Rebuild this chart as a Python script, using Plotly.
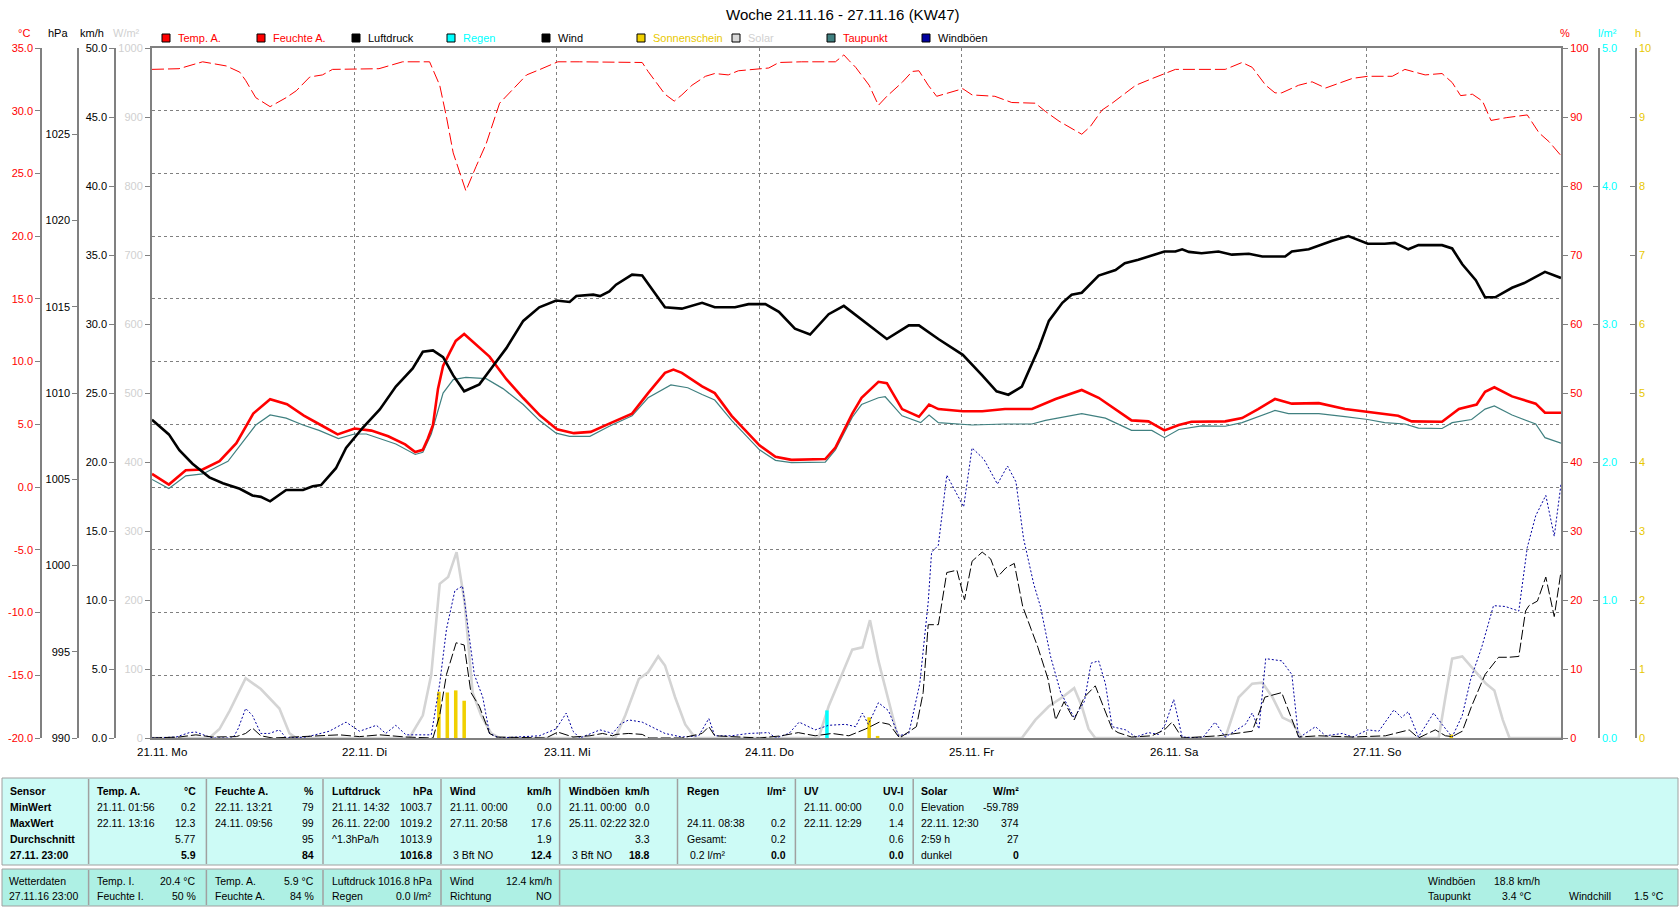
import plotly.graph_objects as go

# ---------------- data (hours since 21.11.16 00:00) ----------------
temp_hours = [0, 2, 4, 6, 8, 10, 12, 14, 16, 18,
              20, 22, 24, 26, 28, 30, 31.2, 32.1, 32.7, 33.3,
              33.9, 34.5, 35.3, 36, 37, 38, 40, 42, 44, 46,
              48, 50, 52, 54,
              56.9, 58.8, 60.8, 61.8, 62.8, 65.2, 66.7, 68.7, 70.7, 72,
              73.9, 75.8, 79.8, 81, 83, 84.1, 86.1, 87.1, 88.9, 90.9,
              92.1, 93.2, 96.1, 98.4, 101.1, 104.3, 107.1, 110.2,
              112.2, 116.1, 118.1, 120, 121.7, 123.2, 127.2, 129.2, 131.1, 133.1,
              135.1, 138.3, 141.4, 144.1, 147.7, 149.3, 152.9, 154.9, 157, 158,
              159.1, 161.2, 164, 165.1, 167]
temp_values = [1.05, 0.2, 1.34, 1.4, 2.06, 3.5, 5.86, 7.0, 6.6, 5.7,
               4.95, 4.2, 4.67, 4.5, 4.05, 3.4, 2.8, 2.97, 3.87, 4.95,
               7.85, 9.66, 10.74, 11.65, 12.2, 11.6, 10.4, 8.6, 7.1, 5.7,
               4.6, 4.3, 4.4, 5.0,
               5.86, 7.49, 9.11, 9.37, 9.11, 8.03, 7.49, 5.68, 4.23, 3.33,
               2.42, 2.17, 2.24, 3.15, 5.86, 7.12, 8.39, 8.28, 6.22, 5.61,
               6.58, 6.22, 6.04, 6.04, 6.22, 6.22, 7.02, 7.74,
               7.12, 5.32, 5.24, 4.52, 4.95, 5.21, 5.24, 5.5, 6.22, 7.02,
               6.65, 6.69, 6.22, 5.97, 5.68, 5.24, 5.21, 6.22, 6.58, 7.6,
               7.96, 7.23, 6.65, 5.93, 5.93]

dew_hours = [0, 2, 4, 6, 9, 11.1, 12.3, 14, 15.9, 17.9,
             19.8, 22.1, 24, 25.4, 28.9, 31.2, 32.1, 33.1, 34.5, 35.7,
             37.2, 39.6, 41.6, 44, 45.9, 47.9, 49.5, 51.9, 54.2,
             56.9, 58.8, 61.5, 63.5, 65.2, 66.7, 68.7, 70.7, 72, 73.9,
             75.8, 79.8, 81, 83, 84.1, 86.1, 86.9, 88.9, 91.1, 92.1,
             93.2, 97.2, 101.1, 104.3, 105.9, 110.2,
             113, 116.1, 118.5, 120, 121.7, 124.4, 127.2, 129.2, 133.1, 134.7,
             138.3, 141.4, 144.1, 146.1, 148.5, 150.1, 152.9, 154.1, 156.4, 158,
             159.1, 161.2, 164, 165.1, 167]
dew_values = [0.61, -0.11, 0.9, 1.05, 2.06, 3.87, 4.95, 5.75, 5.5, 4.95,
              4.52, 3.87, 4.23, 4.23, 3.44, 2.6, 2.78, 4.23, 7.49, 8.57,
              8.75, 8.64, 7.85, 6.58, 5.32, 4.3, 4.05, 4.05, 4.85,
              5.68, 7.12, 8.14, 7.92, 7.38, 6.94, 5.32, 3.87, 2.97, 2.13,
              1.95, 1.99, 2.97, 5.57, 6.58, 7.12, 7.2, 5.68, 5.14, 5.75,
              5.14, 4.95, 5.03, 5.03, 5.32, 5.86,
              5.5, 4.52, 4.52, 3.94, 4.59, 4.88, 4.85, 5.14, 6.11, 5.86,
              5.86, 5.61, 5.39, 5.14, 5.03, 4.7, 4.67, 5.14, 5.39, 6.22,
              6.47, 5.75, 5.03, 3.94, 3.51]

press_hours = [0, 2, 3.24, 4.8, 6.8, 8.4, 10.4, 11.9, 12.9, 14,
               15.9, 17.9, 19.05, 20.04, 21.8, 23, 25, 27, 28.9, 30.9,
               32.1, 33.3, 34.5, 35.7, 37, 38.8, 40.4, 42, 44, 45.9,
               47.9, 49.5, 50.3, 52.3, 53.1, 54.2,
               55, 56.2, 56.9, 58.1, 60.8, 62.8, 65.2, 66.7, 69.1, 70.7,
               72.7, 74.3, 76.2, 78, 80.2, 82, 84.6, 87.1, 89.7, 90.9,
               93.2, 96.1, 98.4, 100.1, 101.5, 103.1, 105.1, 106.3, 107.9, 109,
               110.2,
               112.2, 114.2, 115.3, 116.9, 120, 121.3, 122.1, 122.9, 124.4, 126.4,
               128, 130, 131.6, 134.3, 135.1, 137.1, 139.9, 141.8, 144.1, 146.1,
               147.3, 148.9, 150.1, 152.9, 154.1, 155.3, 156.9, 158, 159.2, 161.2,
               162.8, 165.1, 167]
press_values = [1008.45, 1007.6, 1006.69, 1005.9, 1005.11, 1004.77, 1004.45, 1004.06, 1003.98, 1003.72,
                1004.38, 1004.38, 1004.59, 1004.66, 1005.64, 1006.82, 1008.0, 1009.05, 1010.37, 1011.42,
                1012.39, 1012.47, 1012.08, 1011.02, 1010.1, 1010.5, 1011.55, 1012.6, 1014.18, 1014.97,
                1015.36, 1015.28, 1015.62, 1015.7, 1015.62, 1015.89,
                1016.28, 1016.67, 1016.86, 1016.81, 1014.97, 1014.89, 1015.23, 1014.97, 1014.97, 1015.15,
                1015.15, 1014.71, 1013.73, 1013.39, 1014.57, 1015.05, 1014.05, 1013.13, 1013.92, 1013.92,
                1013.13, 1012.21, 1011.02, 1010.1, 1009.9, 1010.37, 1012.6, 1014.18, 1015.23, 1015.7,
                1015.81,
                1016.81, 1017.13, 1017.52, 1017.73, 1018.2, 1018.2, 1018.33, 1018.18, 1018.1, 1018.2,
                1018.02, 1018.07, 1017.91, 1017.91, 1018.2, 1018.33, 1018.83, 1019.1, 1018.65, 1018.65,
                1018.7, 1018.33, 1018.57, 1018.57, 1018.38, 1017.46, 1016.54, 1015.55, 1015.55, 1016.1,
                1016.41, 1017.02, 1016.67]

hum_hours = [0, 3.2, 6, 8.8, 10.4, 11.1, 12.3, 14, 15.9, 17.1,
             18.7, 20.2, 21.4, 24.1, 26.9, 29.7, 32.9, 34.1, 34.9, 35.7,
             37.2, 38.4, 39.6, 41.2, 42.8, 44.4, 46, 48.1, 50.7, 55.6,
             58.1, 58.8, 60.8, 61.9, 62.8, 64, 65.6, 66.7, 68.3, 69.5,
             72, 73.1, 74.3, 77, 81, 82, 82.6, 83.4, 85, 86.1,
             87.1, 88.9, 90.1, 90.9, 92, 93, 96.1, 97.2, 99.9, 101.9,
             104.7, 105.9, 107.5, 110.2,
             111.2, 112.6, 113.8, 116.6, 118.6, 120, 121.3, 127.2, 129.2, 130.4,
             132, 133.1, 133.9, 135.9, 137.5, 139.1, 142.3, 144.1, 147, 148.5,
             150.9, 152.9, 154.1, 155.1, 156.5, 157.7, 158.7, 160.5, 163, 164.4,
             165.6, 167]
hum_values = [96.9, 97.0, 98.0, 97.4, 96.5, 95.3, 92.8, 91.5, 92.8, 93.8,
              95.8, 96.1, 96.9, 97.0, 97.0, 98.0, 98.0, 94.6, 90.0, 84.8,
              79.3, 82.8, 86.1, 92.0, 94.0, 96.1, 96.9, 98.0, 98.0, 98.0,
              97.9, 96.6, 93.3, 92.3, 93.2, 94.6, 95.9, 96.3, 96.1, 96.7,
              97.0, 97.1, 97.9, 98.0, 98.0, 99.0, 98.2, 97.2, 94.6, 91.7,
              93.0, 95.0, 96.6, 96.7, 94.6, 93.0, 94.1, 93.2, 93.0, 92.1,
              92.0, 90.8, 89.4, 87.5,
              88.6, 91.0, 92.0, 94.6, 95.6, 96.3, 96.9, 96.9, 97.9, 97.2,
              94.6, 93.5, 93.5, 94.6, 95.1, 94.2, 95.6, 95.9, 95.9, 96.9,
              96.1, 96.3, 95.0, 93.1, 93.3, 92.3, 89.5, 89.9, 90.3, 87.7,
              86.4, 84.4]

wind_hours = [0, 3.2, 5.2, 7.2, 10, 11.1, 11.9, 12.9, 14.3, 22.2,
              24.6, 27, 30.1, 33.3, 34.1, 34.9, 36.05, 37, 37.8, 38.8,
              40, 40.8, 46.7, 48.1, 49.9, 51.9, 53.4, 54.6,
              55, 56.5, 58.1, 58.9, 62.8, 65.2, 66, 66.7, 72, 74.6,
              76.6, 78.6, 80.6, 82.6, 84.6, 86.2, 87.4, 88.6, 90.6, 91.4,
              92, 93.2, 94.2, 95.4, 96.3, 97.2, 98.4, 99.4, 100.2, 101.2,
              102.2, 103.2, 104.2, 105, 106.2, 107.1, 108.1, 109.3, 110.5,
              111.8, 113.8, 114.5, 116.1, 118.5, 120, 120.9, 122.1, 126.4, 130.4,
              131.1, 131.9, 133.9, 134.7, 135.9, 138.3, 142.3, 146.2, 147.4, 149,
              150.1, 152.1, 153.3, 154.1, 155.3, 156.4, 158, 159.6, 160.8, 162,
              162.8, 163.2, 164.2, 165.2, 166.2, 167]
wind_values = [0, 0.07, 0.23, 0.07, 0.1, 0.33, 0.72, 0.16, 0, 0.23,
               0.1, 0.23, 0.07, 0, 1.64, 4.6, 6.9, 6.74, 3.29, 2.3,
               0.33, 0.07, 0, 0.43, 0.07, 0.16, 0.33, 0.16,
               0.26, 0.33, 0.26, 0, 0, 0.33, 0.82, 0.16, 0, 0.16,
               0.39, 0.16, 0.33, 0.16, 0.66, 1.15, 0.99, 0, 0.82, 3.29,
               8.21, 8.21, 11.99, 12.16, 10.02, 12.81, 13.47, 12.98, 11.66, 12.32,
               12.65, 9.53, 7.88, 6.57, 4.27, 1.31, 2.63, 1.31, 2.96,
               3.78, 0.66, 0.39, 0.07, 0.16, 0.59, 1.15, 0, 0.16, 0.49,
               1.64, 2.96, 3.29, 1.97, 0.07, 0.16, 0.07, 0.16, 0.33, 0.59,
               0, 0.59, 0.16, 0.1, 0.49, 2.3, 4.6, 5.85, 5.85, 5.91,
               9.2, 9.59, 9.92, 11.66, 8.8, 12.06]

gust_hours = [0, 2.85, 4.43, 5.2, 6.4, 7.2, 9.6, 10.2, 11.1, 11.9,
              12.9, 13.9, 15.1, 15.9, 18.3, 21, 23, 24.6, 26.6, 27.7,
              28.9, 30.1, 33.1, 34.1, 34.9, 35.9, 36.8, 37.4, 38.2, 39.2,
              40, 41.2, 45.9, 47.9, 49.1, 49.9, 50.7, 53.1, 54.6, 55.5,
              56.5, 58.1, 60.8, 62.8, 64.8, 66, 66.7, 68.7, 70.7, 73.1,
              73.9, 75.5, 76.7, 78.6, 80.2, 82.2, 83.4, 84.2, 84.9, 86.1,
              87.3, 88.5, 89.7, 91, 92, 92.4, 93.2, 94.2, 96.2, 97.2,
              98.6, 100.2, 101.4, 102.4, 103.3, 104.5, 105.3, 106.5, 107.7, 109.3,
              110.5,
              111.3, 112.2, 113, 113.8, 115.4, 116.6, 118.1, 119.3, 120.1, 121.1,
              122.1, 124.5, 126, 127.2, 129.6, 130.4, 131.2, 132, 133.9, 135.1,
              135.9, 137.9, 139.1, 141.1, 142.3, 144.1, 145.4, 147.2, 148.1, 148.9,
              150.1, 151.9, 152.9, 154.1, 155.3, 156.3, 157.6, 159, 160.4, 162,
              163, 164, 165.2, 166.2, 167]
gust_values = [0, 0.07, 0.39, 0.43, 0.16, 0, 0, 0.66, 2.14, 1.64,
               0.33, 0.33, 0.59, 0, 0.07, 0.49, 1.15, 0.49, 0.92, 0.33,
               0.92, 0.23, 0.23, 3.94, 7.88, 10.68, 11.01, 8.21, 4.6, 2.96,
               0.33, 0, 0.16, 0.66, 1.81, 0.49, 0, 0.59, 0.33, 1.0,
               1.31, 1.15, 0.33, 0.07, 0.16, 1.41, 0.16, 0.16, 0.33, 0.39,
               0, 0.33, 1.15, 0.59, 0.92, 0.99, 0.82, 1.81, 0.99, 2.56,
               1.97, 0.16, 0.33, 3.94, 9.86, 13.47, 13.96, 19.05, 16.75, 21.02,
               20.2, 18.4, 19.71, 18.56, 14.45, 11.17, 9.53, 5.91, 3.29, 1.48,
               2.63,
               5.42, 5.59, 3.94, 0.82, 0.59, 0.07, 0.39, 0.26, 0.99, 2.79,
               0.07, 0, 1.15, 0.07, 0.99, 1.81, 0.66, 5.75, 5.59, 4.6,
               0, 0.82, 0.16, 0.33, 0.07, 0.59, 0.49, 2.04, 1.48, 1.91,
               0.07, 1.81, 0.99, 0.07, 1.64, 4.27, 6.57, 9.59, 9.53, 9.2,
               13.8, 16.1, 17.58, 14.62, 18.4]

solar_hours = [0, 6.8, 8, 9.2, 11.1, 12.9, 15.1, 16.3, 17.1, 30.5,
               32.1, 33.1, 34.1, 35.1, 36.1, 37.05, 38, 39, 40.2, 41.2,
               54.9, 56.1, 57.7, 58.8, 60, 60.8, 62, 63.2, 64.4, 79,
               80.2, 81.8, 83, 84.2, 85.1, 86.1, 87.3, 88.3, 88.9, 103.1,
               104.7, 106.3, 107.9, 109.3, 110.2, 111, 111.8, 127.2, 128.8, 130.4,
               131.6, 132.8, 134, 135.1, 136.3, 152.5, 153.3, 154.1, 155.3, 156.5,
               158.1, 159.1, 160.1, 160.9, 167]
solar_values = [0, 0, 13, 39.4, 86.7, 71, 42.7, 6.6, 0, 0,
                32.9, 92, 223.4, 233.2, 269.4, 197.1, 65.7, 32.9, 6.6, 0,
                0, 32.9, 85.4, 95.3, 118.3, 105.1, 59.1, 19.7, 0, 0,
                46, 92, 128.1, 131.4, 170.8, 111.7, 52.6, 6.6, 0, 0,
                26.3, 46, 59.1, 72.3, 46, 13.1, 0, 0, 59.1, 78.8,
                80.2, 59.1, 29.6, 23, 0, 0, 59.1, 115, 118.3, 101.8,
                78.8, 69, 26.3, 0, 0]

sun_hours = [34, 35, 36, 37, 85, 86, 154]
sun_values = [0.67, 0.66, 0.69, 0.54, 0.3, 0.03, 0.05]

rain_hours = [80]
rain_values = [0.2]

day_ticks = [0, 24, 48, 72, 96, 120, 144]
day_labels = ["21.11. Mo", "22.11. Di", "23.11. Mi", "24.11. Do",
              "25.11. Fr", "26.11. Sa", "27.11. So"]

# ---------------- geometry helpers ----------------
W, H = 1680, 909
X0, X1, YT, YB = 152, 1561, 48, 738
FONT = "Liberation Sans, Arial, sans-serif"
GRAY = "#808080"
TS = 10.5  # table font size


def fx(p):
    return p / W


def fy(p):
    return 1 - p / H


RED, BLACK, CYAN = "#FF0000", "#000000", "#00FFFF"
YELLOW, SOLAR, TEAL, NAVY = "#F0D000", "#D4D4D4", "#408080", "#0000A0"

fig = go.Figure()
fig.add_trace(go.Scatter(x=solar_hours, y=solar_values, yaxis="y", mode="lines",
                         line=dict(color=SOLAR, width=2.6), name="Solar"))
fig.add_trace(go.Bar(x=sun_hours, y=sun_values, yaxis="y2", width=0.42,
                     marker=dict(color=YELLOW, line=dict(width=0)), name="Sonnenschein"))
fig.add_trace(go.Bar(x=rain_hours, y=rain_values, yaxis="y3", width=0.42,
                     marker=dict(color=CYAN, line=dict(width=0)), name="Regen"))
fig.add_trace(go.Scatter(x=gust_hours, y=gust_values, yaxis="y4", mode="lines",
                         line=dict(color=NAVY, width=1, dash="2px,2px"), name="Windböen"))
fig.add_trace(go.Scatter(x=wind_hours, y=wind_values, yaxis="y4", mode="lines",
                         line=dict(color=BLACK, width=1, dash="10px,3px"), name="Wind"))
fig.add_trace(go.Scatter(x=dew_hours, y=dew_values, yaxis="y5", mode="lines",
                         line=dict(color=TEAL, width=1.2), name="Taupunkt"))
fig.add_trace(go.Scatter(x=hum_hours, y=hum_values, yaxis="y6", mode="lines",
                         line=dict(color=RED, width=1, dash="12px,4px"), name="Feuchte A."))
fig.add_trace(go.Scatter(x=press_hours, y=press_values, yaxis="y7", mode="lines",
                         line=dict(color=BLACK, width=2.6), name="Luftdruck"))
fig.add_trace(go.Scatter(x=temp_hours, y=temp_values, yaxis="y5", mode="lines",
                         line=dict(color=RED, width=2.6), name="Temp. A."))

ydom = [fy(YB), fy(YT)]
tf = dict(family=FONT, size=11)


def axis(rng, vals, texts, color, **kw):
    d = dict(range=rng, domain=ydom, tickvals=vals, ticktext=texts, showline=True,
             linecolor=GRAY, linewidth=1.5, ticks="outside", ticklen=5, tickcolor=GRAY,
             tickwidth=1, tickfont=dict(tf, color=color), showgrid=False, zeroline=False,
             automargin=False, fixedrange=True)
    d.update(kw)
    return d


degv = list(range(-20, 36, 5))
fig.update_layout(
    template="none", width=W, height=H, margin=dict(l=0, r=0, t=0, b=0),
    paper_bgcolor="white", plot_bgcolor="white", showlegend=False, barmode="overlay",
    xaxis=dict(domain=[fx(X0), fx(X1)], range=[0, 167], tickvals=day_ticks[1:],
               showticklabels=False, ticks="", showgrid=True, gridcolor=GRAY,
               griddash="3px,3px", gridwidth=1, showline=True, linecolor=GRAY,
               linewidth=2, mirror=True, zeroline=False, automargin=False, fixedrange=True),
    yaxis=axis([0, 1000], list(range(0, 1001, 100)), [str(v) for v in range(0, 1001, 100)],
               "#D0D0D0", linewidth=2, mirror=True),
    yaxis2=axis([0, 10], list(range(0, 11)), [str(v) for v in range(0, 11)], "#E8C800",
                overlaying="y", anchor="free", position=fx(1636), side="right", ticks="inside"),
    yaxis3=axis([0, 5], list(range(0, 6)), [f"{v:.1f}" for v in range(0, 6)], CYAN,
                overlaying="y", anchor="free", position=fx(1599), side="right", ticks="inside"),
    yaxis4=axis([0, 50], list(range(0, 51, 5)), [f"{v:.1f}" for v in range(0, 51, 5)], BLACK,
                overlaying="y", anchor="free", position=fx(115), side="left"),
    yaxis5=axis([-20, 35], degv, [f"{v:.1f}" for v in degv], RED,
                overlaying="y", anchor="free", position=fx(41), side="left",
                showgrid=True, gridcolor=GRAY, griddash="3px,3px", gridwidth=1),
    yaxis6=axis([0, 100], list(range(0, 101, 10)), [str(v) for v in range(0, 101, 10)], RED,
                overlaying="y", anchor="x", side="right", linewidth=2),
    yaxis7=axis([990, 1030], list(range(990, 1026, 5)), [str(v) for v in range(990, 1026, 5)],
                BLACK, overlaying="y", anchor="free", position=fx(78), side="left"),
)

ann = []
shapes = []


def text(x, y, s, color=BLACK, size=11, anchor="left", bold=False):
    ann.append(dict(x=fx(x), y=fy(y), xref="paper", yref="paper", text=f"<b>{s}</b>" if bold else s,
                    showarrow=False, xanchor=anchor, yanchor="middle",
                    font=dict(family=FONT, size=size, color=color)))


# title
text(842, 15, "Woche 21.11.16 - 27.11.16 (KW47)", size=15, anchor="center")
# unit labels
for x, s, c in [(24, "°C", RED), (58, "hPa", BLACK), (92, "km/h", BLACK), (127, "W/m²", "#D0D0D0"),
                (1565, "%", RED), (1607, "l/m²", CYAN), (1638, "h", "#E8C800")]:
    text(x, 33, s, color=c, anchor="center")

# legend
legend = [("Temp. A.", RED, RED), ("Feuchte A.", RED, RED), ("Luftdruck", BLACK, BLACK),
          ("Regen", CYAN, CYAN), ("Wind", BLACK, BLACK), ("Sonnenschein", YELLOW, "#E8C800"),
          ("Solar", "#D8D8D8", "#D0D0D0"), ("Taupunkt", TEAL, RED), ("Windböen", NAVY, BLACK)]
for i, (lab, sq, tc) in enumerate(legend):
    x = 162 + i * 95.0
    shapes.append(dict(type="rect", xref="paper", yref="paper", x0=fx(x), x1=fx(x + 8),
                       y0=fy(42), y1=fy(34), fillcolor=sq, line=dict(color=BLACK, width=1)))
    text(x + 13.5, 38, lab, color=tc)

# day labels
for h, lab in zip(day_ticks, day_labels):
    ann.append(dict(x=h, y=fy(752), xref="x", yref="paper", text=lab, showarrow=False,
                    xanchor="center", yanchor="middle", xshift=10,
                    font=dict(family=FONT, size=11.5, color=BLACK)))

# ---------------- bottom table ----------------
shapes.append(dict(type="rect", xref="paper", yref="paper", x0=fx(2), x1=fx(1678), y0=fy(865),
                   y1=fy(778), fillcolor="#CDFBF6", line=dict(color="#A0A0A0", width=1), layer="below"))
shapes.append(dict(type="rect", xref="paper", yref="paper", x0=fx(2), x1=fx(1678), y0=fy(906),
                   y1=fy(869), fillcolor="#AEF0E4", line=dict(color="#A0A0A0", width=1), layer="below"))
for sx in [88.6, 206.4, 323, 441, 559.6, 677.5, 795.4, 913.2]:
    shapes.append(dict(type="line", xref="paper", yref="paper", x0=fx(sx), x1=fx(sx), y0=fy(864),
                       y1=fy(779), line=dict(color="#A0A0A0", width=1.5)))
for sx in [88.6, 206.4, 323, 441, 559.6]:
    shapes.append(dict(type="line", xref="paper", yref="paper", x0=fx(sx), x1=fx(sx), y0=fy(905),
                       y1=fy(870), line=dict(color="#A0A0A0", width=1.5)))

rows = [791, 807, 823, 839, 855]
for r, s in zip(rows, ["Sensor", "MinWert", "MaxWert", "Durchschnitt", "27.11. 23:00"]):
    text(8, r, s, bold=True, size=TS)

cols = [
    (94.6, 198, "Temp. A.", "°C", [("21.11. 01:56", "0.2"), ("22.11. 13:16", "12.3"), ("", "5.77"), ("", "5.9")]),
    (212.5, 316, "Feuchte A.", "%", [("22.11. 13:21", "79"), ("24.11. 09:56", "99"), ("", "95"), ("", "84")]),
    (330, 434, "Luftdruck", "hPa", [("21.11. 14:32", "1003.7"), ("26.11. 22:00", "1019.2"), ("^1.3hPa/h", "1013.9"), ("", "1016.8")]),
    (448, 553.6, "Wind", "km/h", [("21.11. 00:00", "0.0"), ("27.11. 20:58", "17.6"), ("", "1.9"), (" 3 Bft NO", "12.4")]),
    (566.8, 652, "Windböen", "km/h", [("21.11. 00:00", "0.0"), ("25.11. 02:22", "32.0"), ("", "3.3"), (" 3 Bft NO", "18.8")]),
    (684.6, 788, "Regen", "l/m²", [("", ""), ("24.11. 08:38", "0.2"), ("Gesamt:", "0.2"), (" 0.2 l/m²", "0.0")]),
    (801.8, 906, "UV", "UV-I", [("21.11. 00:00", "0.0"), ("22.11. 12:29", "1.4"), ("", "0.6"), ("", "0.0")]),
    (919.3, 1021, "Solar", "W/m²", [("Elevation", "-59.789"), ("22.11. 12:30", "374"), ("2:59 h", "27"), ("dunkel", "0")]),
]
for lx, rx, head, unit, vals in cols:
    text(lx, rows[0], head, bold=True, size=TS)
    text(rx, rows[0], unit, anchor="right", bold=True, size=TS)
    for i, (lt, rt) in enumerate(vals):
        if lt:
            text(lx, rows[i + 1], lt, size=TS)
        if rt:
            text(rx, rows[i + 1], rt, anchor="right", bold=(i == 3), size=TS)

b1, b2 = 881, 896
text(7, b1, "Wetterdaten", size=TS)
text(7, b2, "27.11.16 23:00", size=TS)
bottom = [
    (94.6, 198, [("Temp. I.", "20.4 °C"), ("Feuchte I.", "50 %")]),
    (212.5, 316, [("Temp. A.", "5.9 °C"), ("Feuchte A.", "84 %")]),
    (330, 434, [("Luftdruck", "1016.8 hPa"), ("Regen", "0.0 l/m²")]),
    (448, 553.6, [("Wind", "12.4 km/h"), ("Richtung", "NO")]),
]
for lx, rx, pairs in bottom:
    for yy, (lt, rt) in zip([b1, b2], pairs):
        text(lx, yy, lt, size=TS)
        text(rx, yy, rt, anchor="right", size=TS)
text(1425.6, b1, "Windböen", size=TS)
text(1492, b1, "18.8 km/h", size=TS)
text(1425.6, b2, "Taupunkt", size=TS)
text(1533.6, b2, "3.4 °C", anchor="right", size=TS)
text(1567, b2, "Windchill", size=TS)
text(1666, b2, "1.5 °C", anchor="right", size=TS)

fig.update_layout(annotations=ann, shapes=shapes)
fig.write_html("out.html")
